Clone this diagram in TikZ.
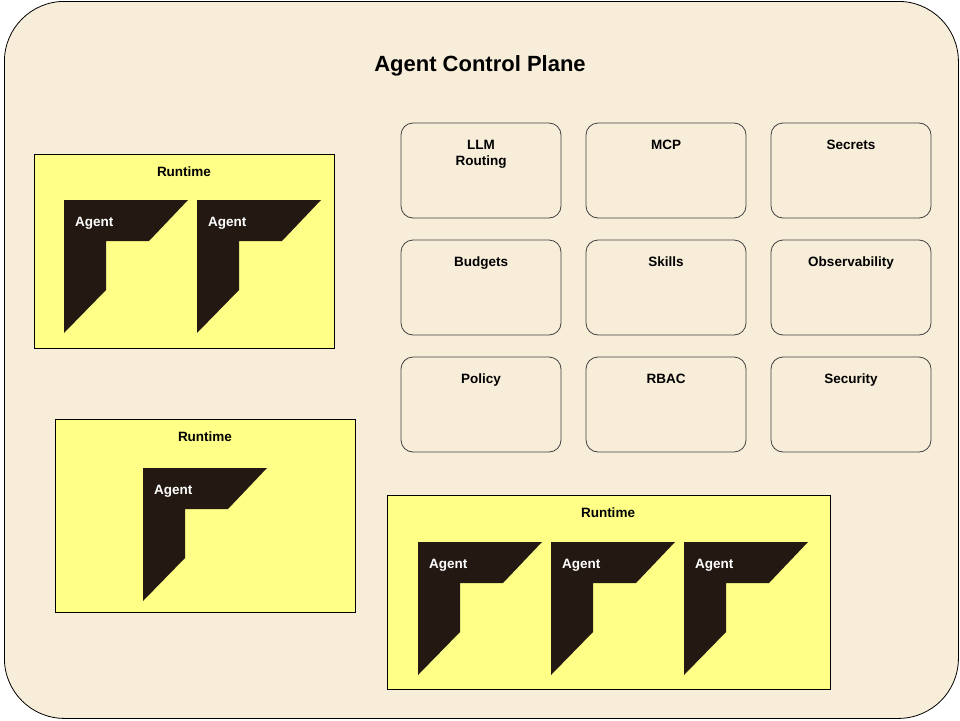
\documentclass[tikz,border=0pt]{standalone}
\usepackage{fontspec}
\setmainfont{Liberation Sans}
\begin{document}
\begin{tikzpicture}[x=1pt,y=-1pt,
  svc/.style={draw=black!75,fill=bg,rounded corners=12pt,line width=0.8pt},
  rt/.style={draw=black,fill=rty,line width=0.8pt},
  lbl/.style={font=\bfseries\fontsize{13.5}{16}\selectfont,align=center,anchor=north,inner sep=0pt},
  alb/.style={font=\bfseries\fontsize{13.5}{16}\selectfont,text=white,anchor=west,inner sep=0pt}]
\definecolor{bg}{HTML}{F7EDD9}
\definecolor{rty}{HTML}{FFFF88}
\definecolor{ag}{HTML}{231812}
\useasboundingbox (0,0) rectangle (960,720);
\node[draw=black,fill=bg,rounded corners=60pt,line width=0.8pt,minimum width=954pt,minimum height=717pt,anchor=north west] (plane) at (4,1) {};
\node[font=\bfseries\fontsize{22}{26}\selectfont] (title) at (480,66) {Agent Control Plane};
\foreach \c/\x in {0/401,1/586,2/771}{
 \foreach \r/\y in {0/123,1/240,2/357}{
  \draw[svc] (\x,\y) rectangle ++(160,95);
 }}
\node[lbl] (llm) at (481,140) {LLM\\Routing};
\node[lbl] (mcp) at (666,140) {MCP};
\node[lbl] (sec) at (851,140) {Secrets};
\node[lbl] (bud) at (481,257) {Budgets};
\node[lbl] (ski) at (666,257) {Skills};
\node[lbl] (obs) at (851,257) {Observability};
\node[lbl] (pol) at (481,374) {Policy};
\node[lbl] (rba) at (666,374) {RBAC};
\node[lbl] (secu) at (851,374) {Security};
\draw[rt] (34,154) rectangle (334,348);
\draw[rt] (55,419) rectangle (355,612);
\draw[rt] (387,495) rectangle (830,689);
\node[lbl] (r1) at (184,167) {Runtime};
\node[lbl] (r2) at (205,432) {Runtime};
\node[lbl] (r3) at (608,508) {Runtime};
\newcommand{\agentshape}[3]{%
 \fill[ag] (#1,#2) -- ++(124,0) -- ++(-39,41) -- ++(-43,0) -- ++(0,49) -- ++(-42,43) -- cycle;
 \node[alb] (#3) at (#1+11,#2+23) {Agent};}
\agentshape{64}{200}{a1}
\agentshape{197}{200}{a2}
\agentshape{143}{468}{a3}
\agentshape{418}{542}{a4}
\agentshape{551}{542}{a5}
\agentshape{684}{542}{a6}
\end{tikzpicture}
\end{document}
